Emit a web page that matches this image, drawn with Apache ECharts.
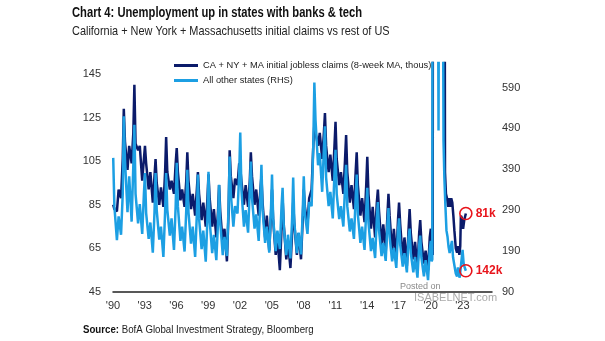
<!DOCTYPE html>
<html><head><meta charset="utf-8">
<script src="https://cdn.jsdelivr.net/npm/echarts@6/dist/echarts.min.js"></script>
<style>html,body{margin:0;padding:0;background:#fff}#c{width:605px;height:341px}</style>
</head><body><div id="c"></div>
<script>
// sample positions within each year (Jan peak, Feb, May trough, Jul bump, Oct trough, Dec)
const yearFractions = [0.02, 0.13, 0.37, 0.53, 0.76, 0.92];
const firstYear = 1990;
// CA + NY + MA initial jobless claims (8-week MA, thous) - left axis, one row per year 1990..2019
const caNyMaRows = [
  [85, 83, 82, 92, 88, 106],
  [129, 114, 101, 112, 104, 118],
  [140, 113, 110, 112, 96, 106],
  [112, 104, 92, 100, 86, 98],
  [106, 95, 85, 93, 84, 100],
  [116, 100, 92, 96, 90, 104],
  [111, 100, 87, 92, 84, 96],
  [109, 96, 83, 90, 80, 92],
  [100, 90, 78, 86, 75, 88],
  [99, 88, 75, 83, 70, 82],
  [94, 82, 67, 74, 59, 82],
  [110, 98, 88, 97, 94, 104],
  [102, 96, 85, 94, 84, 96],
  [109, 98, 85, 92, 80, 92],
  [98, 86, 70, 80, 64, 80],
  [92, 78, 62, 70, 55, 74],
  [88, 76, 60, 68, 56, 72],
  [86, 76, 62, 72, 60, 78],
  [92, 84, 76, 88, 92, 112],
  [122, 118, 112, 118, 106, 118],
  [127, 112, 100, 108, 96, 112],
  [123, 106, 94, 100, 90, 106],
  [117, 100, 86, 94, 83, 100],
  [109, 94, 80, 88, 77, 94],
  [107, 90, 74, 84, 70, 86],
  [92, 82, 66, 76, 63, 80],
  [90, 80, 63, 74, 60, 78],
  [86, 76, 60, 70, 57, 74],
  [83, 72, 60, 68, 56, 72],
  [78, 68, 58, 64, 55, 70]
];
// 2020 onward (pandemic period), dates and values
const caNyMaTailDates = [2020.02, 2020.13, 2020.2, 2020.24, 2021.28, 2021.36, 2021.45, 2021.55, 2021.65, 2021.75, 2021.85, 2021.95, 2022.05, 2022.15, 2022.25, 2022.38, 2022.5, 2022.6, 2022.72, 2022.8, 2022.86, 2022.95, 2023.07, 2023.18, 2023.33];
const caNyMaTail      = [74, 64, 62, 400, 400, 100, 90, 88, 84, 88, 84, 88, 86, 80, 73, 65, 63, 66, 62, 66, 80, 79, 74, 78, 81];

// All other states (RHS), thous - right axis
const otherRows = [
  [418, 300, 217, 275, 230, 330],
  [520, 414, 285, 373, 262, 400],
  [499, 330, 258, 305, 232, 330],
  [381, 283, 220, 260, 186, 285],
  [381, 290, 218, 250, 176, 285],
  [381, 291, 228, 270, 193, 300],
  [406, 300, 215, 250, 189, 290],
  [389, 285, 208, 250, 176, 280],
  [377, 270, 195, 240, 164, 270],
  [384, 265, 185, 230, 168, 260],
  [352, 260, 180, 225, 178, 300],
  [421, 330, 250, 300, 282, 380],
  [480, 340, 250, 290, 235, 340],
  [409, 320, 245, 280, 215, 320],
  [401, 290, 210, 250, 186, 290],
  [377, 270, 190, 240, 195, 300],
  [345, 250, 180, 230, 172, 270],
  [370, 260, 185, 235, 182, 285],
  [373, 280, 232, 310, 300, 450],
  [602, 510, 400, 430, 335, 440],
  [495, 370, 300, 335, 270, 380],
  [438, 330, 268, 300, 250, 350],
  [401, 300, 238, 270, 220, 320],
  [377, 280, 210, 250, 193, 290],
  [345, 260, 190, 222, 173, 270],
  [310, 240, 178, 210, 166, 255],
  [295, 225, 165, 198, 149, 240],
  [270, 205, 152, 185, 138, 225],
  [245, 185, 138, 175, 125, 205],
  [228, 175, 128, 168, 119, 195]
];
const otherTailDates = [2020.02, 2020.1, 2020.16, 2020.2, 2020.68, 2020.75, 2020.8, 2021.15, 2021.22, 2021.3, 2021.4, 2021.5, 2021.6, 2021.7, 2021.8, 2021.9, 2022.02, 2022.12, 2022.25, 2022.38, 2022.5, 2022.58, 2022.65, 2022.75, 2022.85, 2022.95, 2023.02, 2023.12, 2023.22, 2023.33];
const otherTail      = [215, 165, 170, 1500, 1000, 485, 1000, 1000, 460, 370, 300, 240, 225, 200, 185, 200, 215, 175, 155, 135, 128, 150, 135, 125, 150, 175, 193, 160, 150, 142];

const xTickYears = [1990, 1993, 1996, 1999, 2002, 2005, 2008, 2011, 2014, 2017, 2020, 2023];
const leftTicks = [45, 65, 85, 105, 125, 145];
const rightTicks = [90, 190, 290, 390, 490, 590];
const lastCaNyMaLabel = '81k';
const lastOtherLabel = '142k';

function build(rows, tailDates, tail) {
  const out = [];
  rows.forEach((r, i) => r.forEach((v, j) => out.push([firstYear + i + yearFractions[j], v])));
  tailDates.forEach((d, i) => out.push([d, tail[i]]));
  return out;
}
const darkData = build(caNyMaRows, caNyMaTailDates, caNyMaTail);
const lightData = build(otherRows, otherTailDates, otherTail);

const FONT = '"Liberation Sans", Arial, sans-serif';
const DARK = '#0b1b6a', LIGHT = '#1c9fe3', RED = '#e8141b';

const chart = echarts.init(document.getElementById('c'), null, {renderer: 'canvas'});
chart.setOption({
  animation: false,
  textStyle: {fontFamily: FONT},
  legend: {
    left: 174, top: 61, orient: 'vertical', itemGap: 6, itemWidth: 24, itemHeight: 3, icon: 'rect',
    padding: 0, textStyle: {fontFamily: FONT, fontSize: 9.3, color: '#222'},
    data: ['CA + NY + MA initial jobless claims (8-week MA, thous)', 'All other states (RHS)']
  },
  grid: {left: 113, right: 113, top: 63, bottom: 49, containLabel: false},
  xAxis: {
    type: 'value', min: 1990, max: 2025.8,
    axisLine: {show: true, lineStyle: {color: '#222', width: 1.5}},
    axisTick: {show: false}, splitLine: {show: false},
    axisLabel: {customValues: xTickYears, margin: 8, color: '#333', fontSize: 11, fontFamily: FONT,
      formatter: v => "'" + String(Math.round(v)).slice(2)}
  },
  yAxis: [
    {type: 'value', min: 45, max: 150, position: 'left',
     axisLine: {show: false}, axisTick: {show: false}, splitLine: {show: false},
     axisLabel: {customValues: leftTicks, margin: 12, color: '#333', fontSize: 11, fontFamily: FONT}},
    {type: 'value', min: 90, max: 650, position: 'right',
     axisLine: {show: false}, axisTick: {show: false}, splitLine: {show: false},
     axisLabel: {customValues: rightTicks, margin: 10, color: '#333', fontSize: 11, fontFamily: FONT}}
  ],
  series: [
    {name: 'CA + NY + MA initial jobless claims (8-week MA, thous)', type: 'line', yAxisIndex: 0,
     data: darkData, showSymbol: false, symbol: 'none', clip: true,
     lineStyle: {color: DARK, width: 2.5}, itemStyle: {color: DARK},
     markPoint: {symbol: 'circle', symbolSize: 12, silent: true,
       itemStyle: {color: 'rgba(0,0,0,0)', borderColor: RED, borderWidth: 1.6},
       label: {show: true, position: 'right', distance: 3, formatter: lastCaNyMaLabel, color: RED, fontWeight: 'bold', fontSize: 12, fontFamily: FONT},
       data: [{coord: darkData[darkData.length - 1]}]}},
    {name: 'All other states (RHS)', type: 'line', yAxisIndex: 1,
     data: lightData, showSymbol: false, symbol: 'none', clip: true,
     lineStyle: {color: LIGHT, width: 2.5}, itemStyle: {color: LIGHT},
     markPoint: {symbol: 'circle', symbolSize: 12, silent: true,
       itemStyle: {color: 'rgba(0,0,0,0)', borderColor: RED, borderWidth: 1.6},
       label: {show: true, position: 'right', distance: 3, formatter: lastOtherLabel, color: RED, fontWeight: 'bold', fontSize: 12, fontFamily: FONT},
       data: [{coord: lightData[lightData.length - 1]}]}}
  ],
  graphic: [
    {type: 'text', x: 72, y: 6, scaleX: 0.8, silent: true,
     style: {text: 'Chart 4: Unemployment up in states with banks & tech', fill: '#111', font: 'bold 14px ' + FONT, verticalAlign: 'top'}},
    {type: 'text', x: 72, y: 25, scaleX: 0.84, silent: true,
     style: {text: 'California + New York + Massachusetts initial claims vs rest of US', fill: '#222', font: '13px ' + FONT, verticalAlign: 'top'}},
    {type: 'text', x: 83, y: 324, scaleX: 0.88, silent: true,
     style: {text: '{b|Source:} BofA Global Investment Strategy, Bloomberg', fill: '#222', font: '11px ' + FONT, verticalAlign: 'top',
       rich: {b: {fontFamily: FONT, fontSize: 11, fontWeight: 'bold', fill: '#111'}}}},
    {type: 'text', x: 400, y: 282, silent: true, style: {text: 'Posted on', fill: '#8a8a8a', font: '9px ' + FONT}},
    {type: 'text', x: 414, y: 292, silent: true, style: {text: 'ISABELNET.com', fill: '#a9a9a9', font: '11px ' + FONT}}
  ]
});
</script></body></html>
